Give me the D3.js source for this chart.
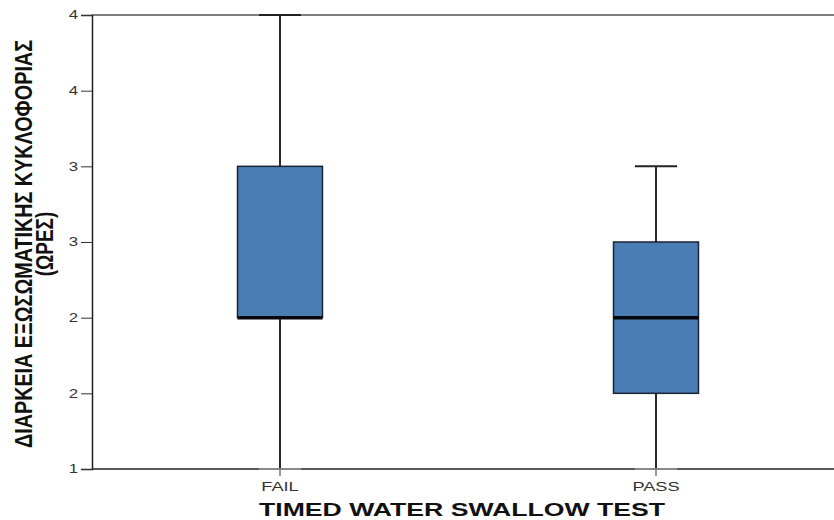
<!DOCTYPE html>
<html>
<head>
<meta charset="utf-8">
<script src="https://cdn.jsdelivr.net/npm/d3@7"></script>
<style>
  html, body { margin: 0; padding: 0; background: #fff; }
  svg { display: block; }
</style>
</head>
<body>
<svg id="chart" width="834" height="520"></svg>
<script>
// Groups and box-plot statistics (hours)
const groups    = ["FAIL", "PASS"];
const whiskLow  = [1.0, 1.0];
const q1        = [2.0, 1.5];
const median    = [2.0, 2.0];
const q3        = [3.0, 2.5];
const whiskHigh = [4.0, 3.0];
const yTicks    = [1.0, 1.5, 2.0, 2.5, 3.0, 3.5, 4.0];

const data = groups.map((g, i) => ({
  group: g, lo: whiskLow[i], q1: q1[i], med: median[i], q3: q3[i], hi: whiskHigh[i]
}));

const FONT = "'Liberation Sans', Arial, sans-serif";
const WIDE = 1.4; // horizontal stretch applied to the lettering

const svg = d3.select("#chart");
const plotL = 92, plotR = 844, plotT = 15, plotB = 469;

const x = d3.scaleBand().domain(groups).range([plotL, plotR]).paddingInner(0).paddingOuter(0);
const y = d3.scaleLinear().domain([1, 4]).range([plotB, plotT]);

const boxW = x.bandwidth() * 0.226;
const capW = x.bandwidth() * 0.112;

// widen a horizontal text element around its anchor
function widen(sel) {
  sel.each(function () {
    const len = this.getComputedTextLength();
    d3.select(this).attr("textLength", len * WIDE).attr("lengthAdjust", "spacingAndGlyphs");
  });
}

// frame: top line
svg.append("line")
  .attr("x1", plotL).attr("x2", 834).attr("y1", plotT).attr("y2", plotT)
  .attr("stroke", "#555").attr("stroke-width", 1.5);

// y axis
const yAxis = d3.axisLeft(y).tickValues(yTicks).tickSize(11).tickPadding(3)
  .tickFormat(d3.format(".0f"));
const gy = svg.append("g").attr("transform", `translate(${plotL},0)`).call(yAxis);
gy.select(".domain").attr("stroke", "#222").attr("stroke-width", 1.5);
gy.selectAll(".tick line").attr("stroke", "#333").attr("stroke-width", 1);
gy.selectAll(".tick text").attr("fill", "#333")
  .style("font-family", FONT).style("font-size", "12px").call(widen);

// x axis
const xAxis = d3.axisBottom(x).tickSize(7).tickPadding(6);
const gx = svg.append("g").attr("transform", `translate(0,${plotB})`).call(xAxis);
gx.select(".domain").remove();
svg.append("line")
  .attr("x1", plotL).attr("x2", 834).attr("y1", plotB).attr("y2", plotB)
  .attr("stroke", "#222").attr("stroke-width", 1.5);
gx.selectAll(".tick line").attr("stroke", "#333").attr("stroke-width", 1);
gx.selectAll(".tick text").attr("fill", "#333")
  .style("font-family", FONT).style("font-size", "13px").call(widen);

// boxes
const g = svg.append("g").selectAll("g").data(data).join("g")
  .attr("transform", d => `translate(${x(d.group) + x.bandwidth() / 2},0)`);

// whiskers
g.append("line").attr("x1", 0).attr("x2", 0)
  .attr("y1", d => y(d.lo)).attr("y2", d => y(d.q1))
  .attr("stroke", "#2a2a2a").attr("stroke-width", 2);
g.append("line").attr("x1", 0).attr("x2", 0)
  .attr("y1", d => y(d.q3)).attr("y2", d => y(d.hi))
  .attr("stroke", "#2a2a2a").attr("stroke-width", 2);
// caps
g.append("line").attr("x1", -capW / 2).attr("x2", capW / 2)
  .attr("y1", d => y(d.hi)).attr("y2", d => y(d.hi))
  .attr("stroke", "#222").attr("stroke-width", 2);
g.append("line").attr("x1", -capW / 2).attr("x2", capW / 2)
  .attr("y1", d => y(d.lo)).attr("y2", d => y(d.lo))
  .attr("stroke", "#bbb").attr("stroke-width", 1);

// box
g.append("rect")
  .attr("x", -boxW / 2).attr("width", boxW)
  .attr("y", d => y(d.q3)).attr("height", d => y(d.q1) - y(d.q3))
  .attr("fill", "#4a7db3").attr("stroke", "#1c2333").attr("stroke-width", 1.5);

// median
g.append("line").attr("x1", -boxW / 2).attr("x2", boxW / 2)
  .attr("y1", d => y(d.med)).attr("y2", d => y(d.med))
  .attr("stroke", "#05070d").attr("stroke-width", 3.5);

// x axis title
svg.append("text")
  .attr("x", 462).attr("y", 516).attr("text-anchor", "middle")
  .style("font-family", FONT)
  .style("font-weight", "bold").style("font-size", "19px").attr("fill", "#111")
  .text("TIMED WATER SWALLOW TEST")
  .call(widen);

// y axis title (two lines, reading upwards)
const yt = svg.append("text")
  .attr("transform", `translate(0,244) scale(1.3,1) rotate(-90)`)
  .attr("text-anchor", "middle")
  .style("font-family", FONT)
  .style("font-weight", "bold").style("font-size", "19px").attr("fill", "#111");
yt.append("tspan").attr("x", 0).attr("y", 24.5)
  .attr("textLength", 408).attr("lengthAdjust", "spacingAndGlyphs")
  .text("ΔΙΑΡΚΕΙΑ ΕΞΩΣΩΜΑΤΙΚΗΣ ΚΥΚΛΟΦΟΡΙΑΣ");
yt.append("tspan").attr("x", 0).attr("y", 40.5)
  .text("(ΩΡΕΣ)");
</script>
</body>
</html>
